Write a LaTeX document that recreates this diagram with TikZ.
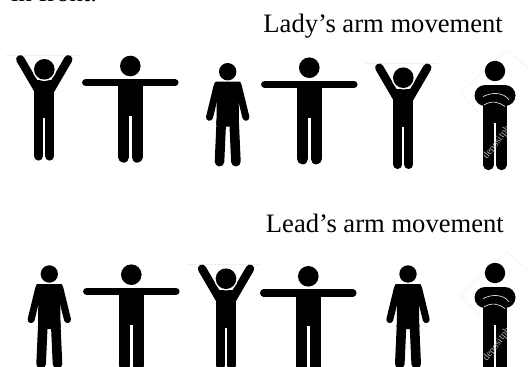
\documentclass[tikz,border=0pt]{standalone}
\usepackage{fontspec}
\setmainfont{Liberation Serif}
\tikzset{
    caption/.style={anchor=base east, inner sep=0pt, font=\fontsize{26.6}{30}\selectfont},
    limb/.style={draw=black, line cap=round},
    faint/.style={draw=black!6, line width=0.6pt},
    upfig/.pic={
        \draw [faint] (-38,-14) -- (35,-14);
        \draw [limb, line width=8.4pt] (-24,-10) -- (-6.5,20);
        \draw [limb, line width=8.4pt] (24,-10) -- (6.5,20);
        \fill (-10,11) rectangle (10,49);
        \draw [limb, line width=9pt] (-5.5,45) -- (-5.5,86.8);
        \draw [limb, line width=9pt] (5.5,45) -- (5.5,86.8);
        \fill [white] (0,0) circle (11.8);
        \fill (0,0) circle (10.3);
    },
    sidefig/.pic={
        \fill (0,0) circle (10.3);
        \draw [limb, line width=7.3pt] (-44.6,16.7) -- (44.6,16.7);
        \fill (-12.2,16.7) rectangle (12.2,50);
        \draw [limb, line width=11pt] (-6.7,45) -- (-6.7,91.2);
        \draw [limb, line width=11pt] (6.7,45) -- (6.7,91.2);
    },
    downfig/.pic={
        \fill (0,0) circle (8.7);
        \fill [rounded corners=2pt] (-13.5,10) -- (13.5,10) -- (11,30) -- (11.3,55) -- (-11.3,55) -- (-11,30) -- cycle;
        \draw [limb, line width=7pt] (-10.5,14) -- (-18.2,45.6);
        \draw [limb, line width=7pt] (10.5,14) -- (18.2,45.6);
        \draw [limb, line width=9.6pt] (-6.4,50) -- (-8.2,90);
        \draw [limb, line width=9.6pt] (6.4,50) -- (8.2,90);
    },
    crossfig/.pic={
        \draw [faint] (-8,50) -- (-35,22) -- (12,-21) -- (33,-3);
        \fill (0,0) circle (10.2);
        \fill (-12.2,20) rectangle (12.2,51.7);
        \draw [limb, line width=10.3pt] (-6.5,45) -- (-6.5,94);
        \draw [limb, line width=10.3pt] (6.5,45) -- (6.5,94);
        \draw [limb, line width=21pt] (-10,24.5) -- (10,24.5);
        \draw [white!85!black, line width=0.7pt] (-12,25.7) .. controls (-4,21) and (9,21) .. (14,29);
        \draw [white!85!black, line width=0.7pt] (-11,34) .. controls (-3,29) and (4,31) .. (10,35.5);
        \begin{scope}
            \clip (-11.8,40) rectangle (11.8,98);
            \node [rotate=53, text=black!30, inner sep=0pt, font=\fontsize{10}{11}\selectfont] at (7,65) {depositphotos};
        \end{scope}
    },
}
\begin{document}
\begin{tikzpicture}[x=1pt, y=-1pt]
    \useasboundingbox (0,0) rectangle (528,367);

    \node (front) [anchor=base west, inner sep=0pt, font=\fontsize{26.6}{30}\selectfont] at (11,1) {in front.};
    \node (lady) [caption] at (503,32) {Lady’s arm movement};
    \node (lead) [caption] at (504,232.7) {Lead’s arm movement};

    \pic (ladyA) at (44.3,69.3) {upfig};
    \pic (ladyB) at (130.3,66) {sidefig};
    \pic (ladyC) at (227.7,71.7) {downfig};
    \pic (ladyD) at (309.3,67.7) {sidefig};
    \pic (ladyE) at (403.3,77.7) {upfig};
    \pic (ladyF) at (495,71) {crossfig};

    \pic (leadA) at (49.3,274) {downfig};
    \pic (leadB) at (131.3,274.7) {sidefig};
    \pic (leadC) at (226,278.7) {upfig};
    \pic (leadD) at (308.3,276.3) {sidefig};
    \pic (leadE) at (408,274) {downfig};
    \pic (leadF) at (495,273) {crossfig};
\end{tikzpicture}
\end{document}
